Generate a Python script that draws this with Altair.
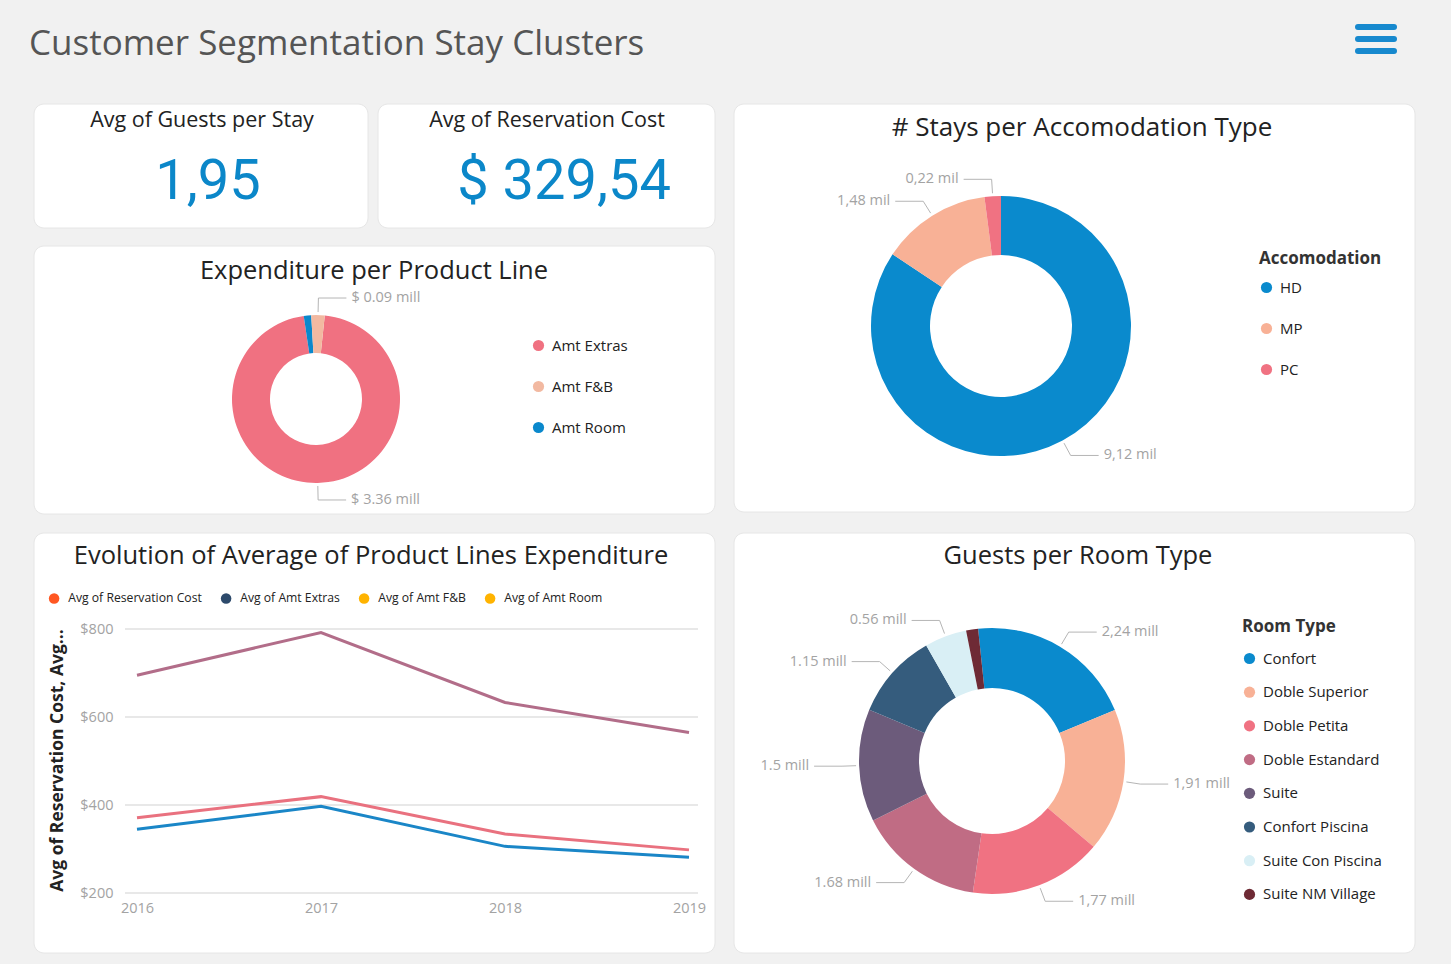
import math
import altair as alt
import pandas as pd

FONT = "Open Sans"
BG = "#f1f1f1"
LABEL_GREY = "#a3a3a3"

# ---------------- data ----------------
kpi_titles = ["Avg of Guests per Stay", "Avg of Reservation Cost"]
kpi_values = [1.95, 329.54]
kpi_prefix = ["", "$ "]

exp_items = ["Amt Extras", "Amt Room", "Amt F&B"]          # clockwise drawing order
exp_values = [3.36, 0.05, 0.09]
exp_labels = ["$ 3.36 mill", "", "$ 0.09 mill"]
exp_legend = ["Amt Extras", "Amt F&B", "Amt Room"]
exp_colors = ["#F07181", "#F2B9A1", "#0A88CC"]

acc_items = ["HD", "MP", "PC"]
acc_values = [9.12, 1.48, 0.22]
acc_labels = ["9,12 mil", "1,48 mil", "0,22 mil"]
acc_colors = ["#0A8ACD", "#F8B196", "#F07282"]

room_items = ["Confort", "Doble Superior", "Doble Petita", "Doble Estandard",
              "Suite", "Confort Piscina", "Suite Con Piscina", "Suite NM Village"]
room_values = [2.24, 1.91, 1.77, 1.68, 1.50, 1.15, 0.56, 0.16]
room_labels = ["2,24 mill", "1,91 mill", "1,77 mill", "1.68 mill",
               "1.5 mill", "1.15 mill", "0.56 mill", ""]
room_colors = ["#0A8ACD", "#F8B196", "#F07282", "#C06C84",
               "#6C5B7B", "#355C7D", "#D9EFF5", "#6E2A35"]

years = [2016, 2017, 2018, 2019]
line_series = ["Avg of Amt Extras", "Avg of Reservation Cost", "Avg of Amt Room"]
line_extras = [695, 792, 633, 565]
line_res = [371, 419, 334, 298]
line_room = [345, 397, 306, 281]
line_colors = ["#B26D89", "#E9717F", "#1A86C7"]
y_ticks = [200, 400, 600, 800]
legend_series = ["Avg of Reservation Cost", "Avg of Amt Extras", "Avg of Amt F&B", "Avg of Amt Room"]
legend_colors = ["#FF5722", "#2D4A6B", "#FFB300", "#FFB300"]

one = pd.DataFrame({"k": [0]})


def card(x0, y0, x1, y1):
    return alt.Chart(one).mark_rect(cornerRadius=10, fill="white", stroke="#e6e6e6",
                                    strokeWidth=1).encode(
        x=alt.value(x0), x2=alt.value(x1), y=alt.value(y0), y2=alt.value(y1))


def label(text, x, y, size, color="#222222", align="center", weight="normal", font=FONT):
    return alt.Chart(one).mark_text(align=align, baseline="middle", fontSize=size,
                                    font=font, color=color, fontWeight=weight).encode(
        x=alt.value(x), y=alt.value(y), text=alt.value(text))


def donut(items, values, labels, domain, colors, cx, cy, r_in, r_out, start_deg, legend):
    df = pd.DataFrame({"item": items, "value": values, "label": labels,
                       "order": list(range(len(items)))})
    a0 = math.radians(start_deg)
    arcs = alt.Chart(df).mark_arc(innerRadius=r_in, outerRadius=r_out).encode(
        theta=alt.Theta("value:Q", stack=True,
                        scale=alt.Scale(range=[a0, a0 + 2 * math.pi])),
        color=alt.Color("item:N", scale=alt.Scale(domain=domain, range=colors), legend=legend),
        order=alt.Order("order:Q"),
        x=alt.value(cx), y=alt.value(cy))
    geo = (alt.Chart(df)
           .transform_joinaggregate(total="sum(value)")
           .transform_window(cum="sum(value)", sort=[alt.SortField("order")], frame=[None, 0])
           .transform_calculate(mid=f"{a0} + (datum.cum - datum.value/2)/datum.total*2*PI")
           .transform_calculate(side="sin(datum.mid) >= 0 ? 1 : -1")
           .transform_calculate(ax=f"{cx} + {r_out + 3}*sin(datum.mid)")
           .transform_calculate(ay=f"{cy} - {r_out + 3}*cos(datum.mid)")
           .transform_calculate(bx=f"{cx} + {r_out + 17}*sin(datum.mid)")
           .transform_calculate(by=f"{cy} - {r_out + 17}*cos(datum.mid)")
           .transform_calculate(ex="datum.bx + datum.side*28")
           .transform_calculate(tx="datum.bx + datum.side*33")
           .transform_filter("datum.label != ''"))
    seg1 = geo.mark_rule(color="#b5b5b5", strokeWidth=1).encode(
        x=alt.X("ax:Q", scale=None, axis=None), y=alt.Y("ay:Q", scale=None, axis=None),
        x2="bx:Q", y2="by:Q")
    seg2 = geo.mark_rule(color="#b5b5b5", strokeWidth=1).encode(
        x=alt.X("bx:Q", scale=None, axis=None), y=alt.Y("by:Q", scale=None, axis=None),
        x2="ex:Q", y2="by:Q")
    txt_r = geo.transform_filter("datum.side > 0").mark_text(
        align="left", baseline="middle", font=FONT, fontSize=14.5, color=LABEL_GREY).encode(
        x=alt.X("tx:Q", scale=None, axis=None), y=alt.Y("by:Q", scale=None, axis=None),
        text="label:N")
    txt_l = geo.transform_filter("datum.side < 0").mark_text(
        align="right", baseline="middle", font=FONT, fontSize=14.5, color=LABEL_GREY).encode(
        x=alt.X("tx:Q", scale=None, axis=None), y=alt.Y("by:Q", scale=None, axis=None),
        text="label:N")
    return alt.layer(arcs, seg1, seg2, txt_r, txt_l)


def vlegend(title, lx, ly, row_pad, title_pad=12):
    kw = dict(orient="none", legendX=lx, legendY=ly, padding=0,
              labelFont=FONT, labelFontSize=15, labelColor="#222222",
              symbolType="circle", symbolSize=125, symbolStrokeWidth=0,
              rowPadding=row_pad, labelOffset=6)
    if title:
        kw.update(title=title, titleFont=FONT, titleFontSize=17, titleFontWeight="bold",
                  titleColor="#333333", titlePadding=title_pad)
    else:
        kw.update(title=None)
    return alt.Legend(**kw)


# ---------------- cards & texts ----------------
layers = [
    card(34, 104, 368, 228), card(378, 104, 715, 228), card(34, 246, 715, 514),
    card(734, 104, 1415, 512), card(34, 533, 715, 953), card(734, 533, 1415, 953),
    label("Customer Segmentation Stay Clusters", 29, 44, 35, color="#555555", align="left"),
    label(kpi_titles[0], 202, 121, 21.5),
    label(kpi_titles[1], 547, 121, 21.5),
    label(kpi_prefix[0] + f"{kpi_values[0]:.2f}".replace(".", ","), 208, 182, 56,
          color="#0B87C9", font="Roboto"),
    label(kpi_prefix[1] + f"{kpi_values[1]:.2f}".replace(".", ","), 564, 182, 56,
          color="#0B87C9", font="Roboto"),
    label("Expenditure per Product Line", 374, 271, 25.5),
    label("# Stays per Accomodation Type", 1082, 128, 26),
    label("Evolution of Average of Product Lines Expenditure", 371, 556, 25.5),
    label("Guests per Room Type", 1078, 556, 25.5),
]

# hamburger icon
for yy in (27, 39, 51):
    layers.append(alt.Chart(one).mark_rule(strokeWidth=6, strokeCap="round", color="#1789CE").encode(
        x=alt.value(1358), x2=alt.value(1394), y=alt.value(yy)))

# ---------------- donuts ----------------
layers.append(donut(exp_items, exp_values, exp_labels, exp_legend, exp_colors,
                    316, 399, 46, 84, 6, vlegend(None, 531, 338, 25)))
layers.append(donut(acc_items, acc_values, acc_labels, acc_items, acc_colors,
                    1001, 326, 71, 130, 0, vlegend("Accomodation", 1259, 251, 25)))
layers.append(donut(room_items, room_values, room_labels, room_items, room_colors,
                    992, 761, 73, 133, -6, vlegend("Room Type", 1242, 619, 17.7, 15)))

# ---------------- line chart ----------------
line_df = pd.DataFrame({
    "year": years * 3,
    "value": line_extras + line_res + line_room,
    "series": [s for s in line_series for _ in years],
})
xs = alt.Scale(type="point", domain=years, range=[137, 689], padding=0)
ys = alt.Scale(domain=[200, 800], range=[893, 629], nice=False, zero=False)

y_axis = alt.Axis(
    orient="left", offset=-121, values=y_ticks, format="$.0f", labelFont=FONT,
    labelFontSize=14.5, labelColor=LABEL_GREY, labelPadding=8, zindex=1,
    domain=False, ticks=False, grid=False,
    title="Avg of Reservation Cost, Avg...", titleFont=FONT, titleFontSize=17.5,
    titleFontWeight="bold", titleColor="#222222", titleAngle=270,
    titleX=-64, titleY=760, titleAlign="center", titleBaseline="middle")

grid = alt.Chart(pd.DataFrame({"value": y_ticks})).mark_rule(color="#e8e8e8", strokeWidth=2).encode(
    x=alt.value(125), x2=alt.value(698), y=alt.Y("value:Q", scale=ys, axis=y_axis))

lines = alt.Chart(line_df).mark_line(strokeWidth=3).encode(
    x=alt.X("year:O", scale=xs, axis=alt.Axis(
        orient="bottom", offset=-71, title=None, labelAngle=0, labelFont=FONT,
        labelFontSize=14.5, labelColor=LABEL_GREY, labelPadding=8, zindex=1,
        domain=False, ticks=False, grid=False)),
    y=alt.Y("value:Q", scale=ys, axis=y_axis),
    color=alt.Color("series:N", scale=alt.Scale(domain=line_series, range=line_colors),
                    legend=None),
)
layers.append(alt.layer(grid, lines))

# legend of the line chart
layers.append(alt.Chart(pd.DataFrame({"series": legend_series})).mark_text(text=" ").encode(
    x=alt.value(0), y=alt.value(0),
    color=alt.Color("series:N", scale=alt.Scale(domain=legend_series, range=legend_colors),
                    legend=alt.Legend(orient="none", direction="horizontal", legendX=48,
                                      legendY=592, title=None, padding=0, labelFont=FONT,
                                      labelFontSize=12.2, labelColor="#222222",
                                      symbolType="circle", symbolSize=110,
                                      symbolStrokeWidth=0, labelOffset=8,
                                      columnPadding=18))))

chart = alt.layer(*layers).resolve_scale(
    x="independent", y="independent", color="independent", theta="independent"
).properties(
    width=1451, height=964, padding=0, background=BG,
    autosize=alt.AutoSizeParams(type="none"),
).configure_view(stroke=None)

chart.save("out.html", embed_options={"renderer": "svg", "actions": False})
